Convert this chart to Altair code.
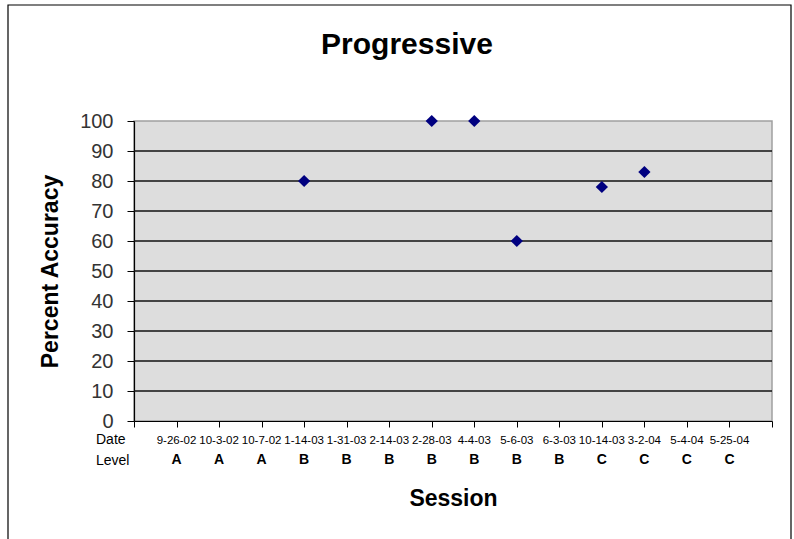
import altair as alt
import pandas as pd

sessions = list(range(1, 15))
dates = ["9-26-02", "10-3-02", "10-7-02", "1-14-03", "1-31-03", "2-14-03", "2-28-03",
         "4-4-03", "5-6-03", "6-3-03", "10-14-03", "3-2-04", "5-4-04", "5-25-04"]
levels = ["A", "A", "A", "B", "B", "B", "B", "B", "B", "B", "C", "C", "C", "C"]
accuracy = [None, None, None, 80, None, None, 100, 100, 60, None, 78, 83, None, None]
grid_values = [10, 20, 30, 40, 50, 60, 70, 80, 90]
y_ticks = [0, 10, 20, 30, 40, 50, 60, 70, 80, 90, 100]
x_ticks = list(range(0, 16))

df = pd.DataFrame({"session": sessions, "date": dates, "level": levels, "acc": accuracy})
pts = df.dropna(subset=["acc"])
grid_df = pd.DataFrame({"acc": grid_values})

FONT = "Liberation Sans"
W, H = 638, 300

xscale = alt.Scale(domain=[0, 15], nice=False, zero=False)
yscale = alt.Scale(domain=[0, 100], nice=False)

xaxis = alt.Axis(values=x_ticks, labels=False, grid=False, domainColor="black",
                 tickColor="black", tickSize=6, domainWidth=1.2,
                 title="Session", titleFont=FONT, titleFontSize=23,
                 titleFontWeight="bold", titleColor="black",
                 titleX=W / 2, titleY=77, titleBaseline="middle")
yaxis = alt.Axis(values=y_ticks, grid=False, domainColor="black", tickColor="black",
                 tickSize=7, domainWidth=1.2, labelFont=FONT, labelFontSize=20,
                 labelColor="#333333", labelPadding=14,
                 title="Percent Accuracy", titleFont=FONT, titleFontSize=23,
                 titleFontWeight="bold", titleColor="black", titleAngle=-90,
                 titleX=-84, titleY=H / 2, titleBaseline="middle", titleAlign="center")

grid = alt.Chart(grid_df).mark_rule(color="#111111", strokeWidth=1.4).encode(
    y=alt.Y("acc:Q", scale=yscale, axis=yaxis)
)

points = alt.Chart(pts).mark_point(
    shape="diamond", filled=True, size=150, color="#000080", opacity=1
).encode(
    x=alt.X("session:Q", scale=xscale, axis=xaxis),
    y=alt.Y("acc:Q", scale=yscale, axis=yaxis),
)

date_text = alt.Chart(df).mark_text(font=FONT, fontSize=11.5, color="black", baseline="middle").encode(
    x=alt.X("session:Q", scale=xscale, axis=xaxis), y=alt.value(320), text="date:N"
)
level_text = alt.Chart(df).mark_text(font=FONT, fontSize=14, fontWeight="bold", color="black",
                                     baseline="middle").encode(
    x=alt.X("session:Q", scale=xscale, axis=xaxis), y=alt.value(339), text="level:N"
)

date_hdr = alt.Chart(pd.DataFrame({"t": ["Date"]})).mark_text(
    font=FONT, fontSize=14, color="black", align="left", baseline="middle"
).encode(x=alt.value(-38), y=alt.value(319), text="t:N")
level_hdr = alt.Chart(pd.DataFrame({"t": ["Level"]})).mark_text(
    font=FONT, fontSize=14, color="black", align="left", baseline="middle"
).encode(x=alt.value(-38), y=alt.value(340), text="t:N")

title = alt.Chart(pd.DataFrame({"t": ["Progressive"]})).mark_text(
    font=FONT, fontSize=30, fontWeight="bold", color="black", align="center", baseline="middle"
).encode(x=alt.value(273), y=alt.value(-76), text="t:N")

border = alt.Chart(pd.DataFrame({"a": [0]})).mark_rect(
    fill="transparent", stroke="black", strokeWidth=1.2
).encode(x=alt.value(-126), x2=alt.value(657), y=alt.value(-116), y2=alt.value(440))

chart = alt.layer(grid, points, date_text, level_text, date_hdr, level_hdr, title, border).properties(
    width=W, height=H,
    background="white",
    autosize=alt.AutoSizeParams(type="none"),
    padding={"left": 134, "top": 121, "right": 22, "bottom": 118},
).configure_view(fill="#DDDDDD", stroke="#A0A0A0", strokeWidth=1.5)

chart.save("out.html", embed_options={"renderer": "svg", "actions": False})
